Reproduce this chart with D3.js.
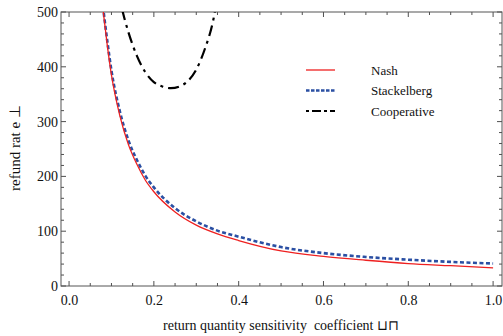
<!DOCTYPE html>
<html>
<head>
<meta charset="utf-8">
<script src="https://cdn.jsdelivr.net/npm/d3@7"></script>
<style>
  body { margin: 0; background: #fff; }
  svg text { font-family: "Liberation Serif", "Times New Roman", serif; fill: #111; }
</style>
</head>
<body>
<svg id="chart" width="503" height="336"></svg>
<script>
// ---- data ----
const nashX = [0.08, 0.09, 0.10, 0.12, 0.14, 0.16, 0.18, 0.20, 0.25, 0.30, 0.35, 0.40, 0.50, 0.60, 0.70, 0.80, 0.90, 1.00];
const nashY = [505, 440, 385, 310, 258, 222, 193, 172, 135, 111, 95, 83, 64, 54, 47, 41, 37, 33];

const stackX = [0.08, 0.09, 0.10, 0.12, 0.14, 0.16, 0.18, 0.20, 0.25, 0.30, 0.35, 0.40, 0.50, 0.60, 0.70, 0.80, 0.90, 1.00];
const stackY = [510, 448, 393, 318, 266, 230, 201, 180, 142, 118, 101, 90, 71, 60, 53, 48, 44, 41];

const coopX = [0.125, 0.13, 0.14, 0.16, 0.18, 0.20, 0.22, 0.24, 0.26, 0.28, 0.30, 0.32, 0.34, 0.345];
const coopY = [505, 490, 463, 420, 390, 372, 364, 361, 364, 374, 395, 432, 485, 505];

const xTicks = [0.0, 0.2, 0.4, 0.6, 0.8, 1.0];
const yTicks = [0, 100, 200, 300, 400, 500];

const seriesNames = ['Nash', 'Stackelberg', 'Cooperative'];

// ---- layout ----
const plotL = 61, plotR = 502, plotT = 12, plotB = 286;

const svg = d3.select('#chart');

const x = d3.scaleLinear().domain([-0.019, 1.021]).range([plotL, plotR]);
const y = d3.scaleLinear().domain([0, 500]).range([plotB, plotT]);

// clip for curves
svg.append('defs').append('clipPath').attr('id', 'plot-clip')
  .append('rect')
  .attr('x', plotL).attr('y', plotT)
  .attr('width', plotR - plotL).attr('height', plotB - plotT);

// ticks (inward, all four sides)
const xMinor = d3.range(0, 1.0001, 0.05);
const yMinor = d3.range(0, 500.1, 20);

const ticks = svg.append('g').attr('stroke', '#222').attr('stroke-width', 0.8);
xMinor.forEach(v => {
  const major = xTicks.some(t => Math.abs(t - v) < 1e-6);
  const len = major ? 5 : 3;
  ticks.append('line').attr('x1', x(v)).attr('x2', x(v)).attr('y1', plotB).attr('y2', plotB - len);
  ticks.append('line').attr('x1', x(v)).attr('x2', x(v)).attr('y1', plotT).attr('y2', plotT + len);
});
yMinor.forEach(v => {
  const major = yTicks.includes(Math.round(v));
  const len = major ? 5 : 3;
  ticks.append('line').attr('x1', plotL).attr('x2', plotL + len).attr('y1', y(v)).attr('y2', y(v));
  ticks.append('line').attr('x1', plotR).attr('x2', plotR - len).attr('y1', y(v)).attr('y2', y(v));
});

// frame
svg.append('rect')
  .attr('x', plotL).attr('y', plotT)
  .attr('width', plotR - plotL).attr('height', plotB - plotT)
  .attr('fill', 'none').attr('stroke', '#555').attr('stroke-width', 1);

// tick labels
const xAxis = d3.axisBottom(x).tickValues(xTicks).tickSize(0).tickPadding(9)
  .tickFormat(d3.format('.1f'));
svg.append('g').attr('transform', `translate(0,${plotB})`).call(xAxis)
  .call(g => g.select('.domain').remove())
  .selectAll('text')
  .attr('font-size', 14).attr('fill', '#111');

const yAxis = d3.axisLeft(y).tickValues(yTicks).tickSize(0).tickPadding(3);
svg.append('g').attr('transform', `translate(${plotL},0)`).call(yAxis)
  .call(g => g.select('.domain').remove())
  .selectAll('text')
  .attr('font-size', 14).attr('fill', '#111');

// axis titles
svg.append('text')
  .attr('x', 281).attr('y', 330)
  .attr('text-anchor', 'middle').attr('font-size', 14)
  .style('white-space', 'pre')
  .text('return quantity sensitivity  coefficient \u2294\u2293');

svg.append('text')
  .attr('transform', 'translate(20,148) rotate(-90)')
  .attr('text-anchor', 'middle').attr('font-size', 15)
  .style('white-space', 'pre')
  .text('refund rat e \u22A5');

// curves
const line = d3.line().x(d => x(d[0])).y(d => y(d[1])).curve(d3.curveMonotoneX);
const curves = svg.append('g').attr('clip-path', 'url(#plot-clip)');

const styles = [
  { color: '#ee2020', width: 1.3, dash: null, legendDash: null },
  { color: '#2a4fa3', width: 2.6, dash: '4,2.5', legendDash: '3.5,1.5' },
  { color: '#000000', width: 2.2, dash: '11,5,3,5', legendDash: '3,3,9,3' }
];
const seriesData = [
  d3.zip(nashX, nashY),
  d3.zip(stackX, stackY),
  d3.zip(coopX, coopY)
];

// draw cooperative first, then stackelberg, then nash on top
[2, 1, 0].forEach(i => {
  curves.append('path')
    .datum(seriesData[i])
    .attr('d', line)
    .attr('fill', 'none')
    .attr('stroke', styles[i].color)
    .attr('stroke-width', styles[i].width)
    .attr('stroke-dasharray', styles[i].dash);
});

// legend
const legend = svg.append('g');
seriesNames.forEach((name, i) => {
  const ly = 70 + i * 20.5;
  legend.append('line')
    .attr('x1', 306).attr('x2', 335).attr('y1', ly).attr('y2', ly)
    .attr('stroke', styles[i].color)
    .attr('stroke-width', styles[i].width)
    .attr('stroke-dasharray', styles[i].legendDash);
  legend.append('text')
    .attr('x', 371).attr('y', ly + 4.5)
    .attr('font-size', 13)
    .text(name);
});
</script>
</body>
</html>
